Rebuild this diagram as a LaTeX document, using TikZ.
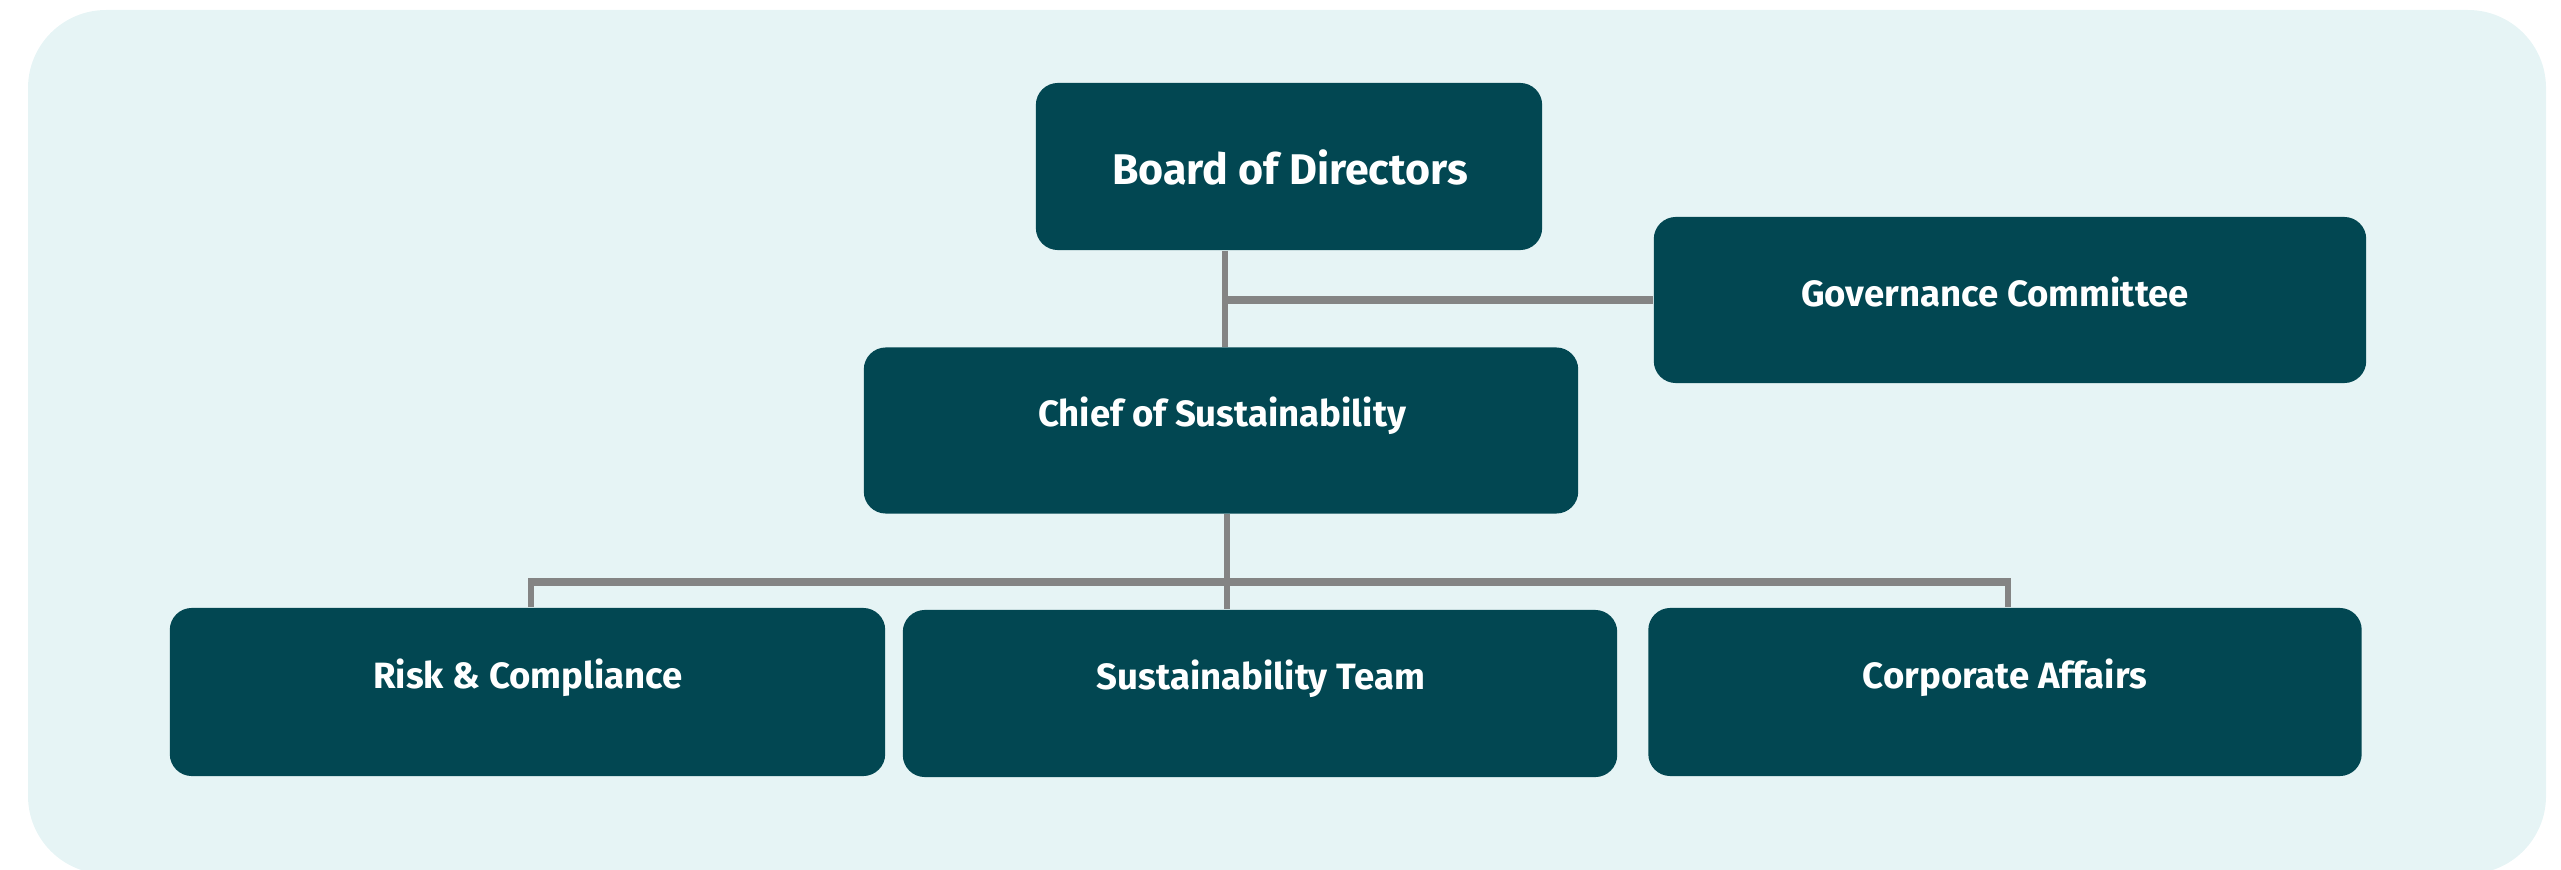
\documentclass[tikz,border=0pt]{standalone}
\usepackage{fontspec}
\setmainfont{Fira Sans}
\definecolor{bgc}{HTML}{E6F4F5}
\definecolor{boxc}{HTML}{024752}
\definecolor{linec}{HTML}{848484}
\begin{document}
\begin{tikzpicture}[x=0.01cm,y=-0.01cm,
  orgbox/.style={draw=none,fill=boxc,rounded corners=0.22cm,inner sep=0pt},
  lbl/.style={text=white,font=\bfseries\fontsize{10.4}{12}\selectfont,inner sep=0pt},
  conn/.style={draw=linec,line width=1.7pt},
  hconn/.style={draw=linec,line width=2.2pt}]
\useasboundingbox (0,0) rectangle (2561,870);
\fill[bgc,rounded corners=0.78cm] (28,10) rectangle (2546,874);
% boxes
\node[orgbox,minimum width=5.06cm,minimum height=1.67cm] (board) at (1289,166.5) {};
\node[orgbox,minimum width=7.12cm,minimum height=1.66cm] (gov) at (2010,300) {};
\node[orgbox,minimum width=7.14cm,minimum height=1.66cm] (chief) at (1221,430.5) {};
\node[orgbox,minimum width=7.15cm,minimum height=1.68cm] (risk) at (527.5,692) {};
\node[orgbox,minimum width=7.14cm,minimum height=1.67cm] (team) at (1260,693.5) {};
\node[orgbox,minimum width=7.13cm,minimum height=1.68cm] (corp) at (2005,692) {};
% labels
\node[lbl,font=\bfseries\fontsize{12.2}{14}\selectfont] (tboard) at (1290,167) {Board of Directors};
\node[lbl] (tgov) at (1995,292) {Governance Committee};
\node[lbl] (tchief) at (1222,416) {Chief of Sustainability};
\node[lbl] (trisk) at (528,678) {Risk \& Compliance};
\node[lbl] (tteam) at (1261,679) {Sustainability Team};
\node[lbl] (tcorp) at (2005,678) {Corporate Affairs};
% connectors
\coordinate (j1) at (1225,300);
\coordinate (j2) at (1227,582);
\coordinate (jl) at (531,582);
\coordinate (jr) at (2008,582);
\draw[conn] (board.south -| j1) -- (chief.north -| j1);
\draw[hconn] (j1) -- (gov.west |- j1);
\draw[conn] (chief.south -| j2) -- (team.north -| j2);
\draw[hconn] (jl) -- (jr);
\draw[conn] ([yshift=1.1pt]jl) -- (risk.north -| jl);
\draw[conn] ([yshift=1.1pt]jr) -- (corp.north -| jr);
\end{tikzpicture}
\end{document}
